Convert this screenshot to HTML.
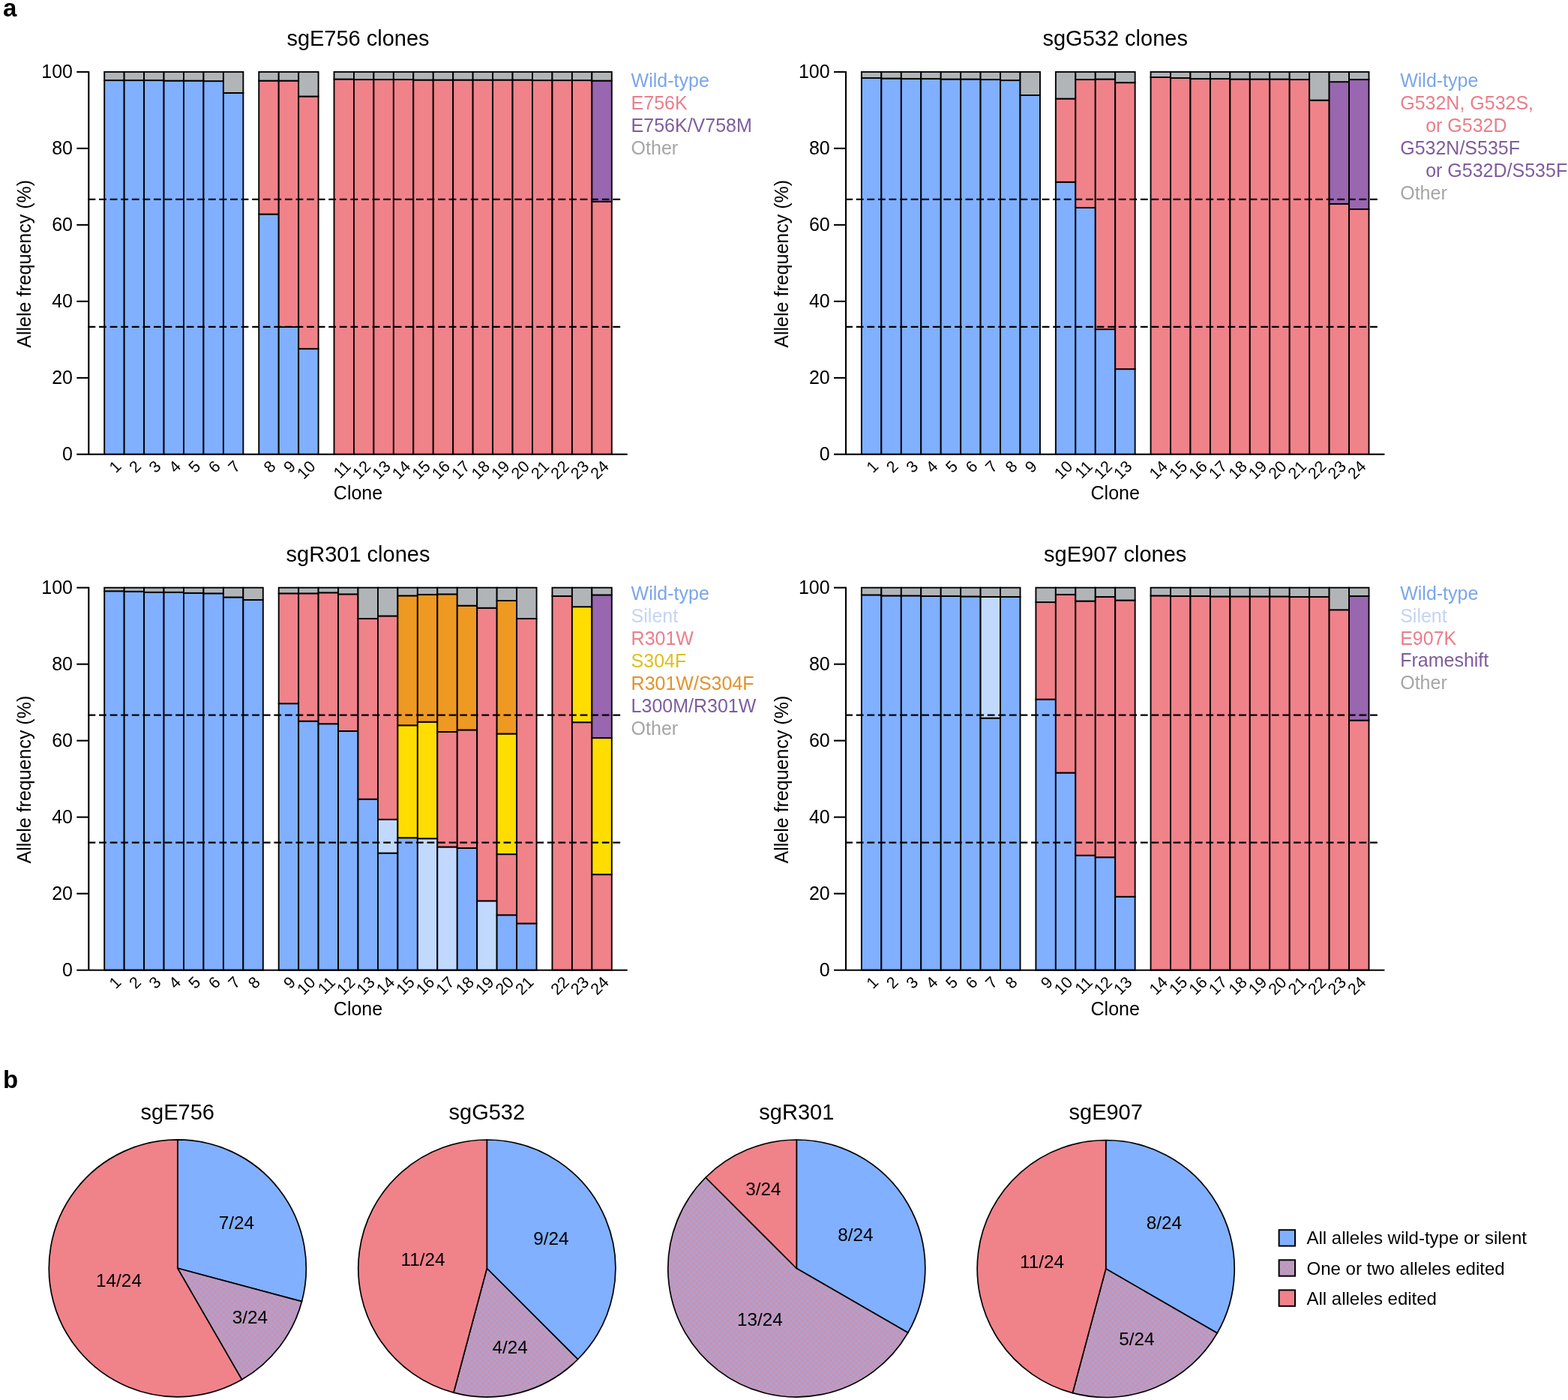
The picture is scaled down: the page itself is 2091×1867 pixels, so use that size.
<!DOCTYPE html>
<html><head><meta charset="utf-8"><title>Figure</title><style>
html,body{margin:0;padding:0;background:#fff;}
svg{display:block;}
text{font-family:"Liberation Sans",Arial,sans-serif;}
</style></head><body>
<svg width="2091" height="1867" viewBox="0 0 2091 1867">
<defs><pattern id="hat" width="7.6" height="7.6" patternUnits="userSpaceOnUse"><rect width="7.6" height="7.6" fill="#b99bc4"/><rect x="0.6" y="0.6" width="2.6" height="2.6" fill="#df899b"/><rect x="4.4" y="4.4" width="2.6" height="2.6" fill="#df899b"/><rect x="4.4" y="0.6" width="2.6" height="2.6" fill="#a2a6dc"/><rect x="0.6" y="4.4" width="2.6" height="2.6" fill="#a2a6dc"/></pattern></defs>
<rect width="2091" height="1867" fill="#fff"/>
<text x="4" y="22.3" font-size="33" font-weight="bold">a</text>
<text x="4" y="1450.6" font-size="33" font-weight="bold">b</text>
<g stroke="#000" stroke-width="1.9">
<rect x="139.2" y="107.12" width="26.45" height="498.78" fill="#80b0ff"/>
<rect x="139.2" y="95.9" width="26.45" height="11.22" fill="#b2b5b8"/>
<rect x="165.65" y="107.12" width="26.45" height="498.78" fill="#80b0ff"/>
<rect x="165.65" y="95.9" width="26.45" height="11.22" fill="#b2b5b8"/>
<rect x="192.1" y="107.12" width="26.45" height="498.78" fill="#80b0ff"/>
<rect x="192.1" y="95.9" width="26.45" height="11.22" fill="#b2b5b8"/>
<rect x="218.55" y="107.63" width="26.45" height="498.27" fill="#80b0ff"/>
<rect x="218.55" y="95.9" width="26.45" height="11.73" fill="#b2b5b8"/>
<rect x="245" y="107.63" width="26.45" height="498.27" fill="#80b0ff"/>
<rect x="245" y="95.9" width="26.45" height="11.73" fill="#b2b5b8"/>
<rect x="271.45" y="108.14" width="26.45" height="497.76" fill="#80b0ff"/>
<rect x="271.45" y="95.9" width="26.45" height="12.24" fill="#b2b5b8"/>
<rect x="297.9" y="123.95" width="26.45" height="481.95" fill="#80b0ff"/>
<rect x="297.9" y="95.9" width="26.45" height="28.05" fill="#b2b5b8"/>
<rect x="345.25" y="285.62" width="26.45" height="320.28" fill="#80b0ff"/>
<rect x="345.25" y="107.63" width="26.45" height="177.99" fill="#f0828a"/>
<rect x="345.25" y="95.9" width="26.45" height="11.73" fill="#b2b5b8"/>
<rect x="371.7" y="436.07" width="26.45" height="169.83" fill="#80b0ff"/>
<rect x="371.7" y="107.63" width="26.45" height="328.44" fill="#f0828a"/>
<rect x="371.7" y="95.9" width="26.45" height="11.73" fill="#b2b5b8"/>
<rect x="398.15" y="465.14" width="26.45" height="140.76" fill="#80b0ff"/>
<rect x="398.15" y="128.54" width="26.45" height="336.6" fill="#f0828a"/>
<rect x="398.15" y="95.9" width="26.45" height="32.64" fill="#b2b5b8"/>
<rect x="445.5" y="105.59" width="26.45" height="500.31" fill="#f0828a"/>
<rect x="445.5" y="95.9" width="26.45" height="9.69" fill="#b2b5b8"/>
<rect x="471.95" y="106.1" width="26.45" height="499.8" fill="#f0828a"/>
<rect x="471.95" y="95.9" width="26.45" height="10.2" fill="#b2b5b8"/>
<rect x="498.4" y="106.1" width="26.45" height="499.8" fill="#f0828a"/>
<rect x="498.4" y="95.9" width="26.45" height="10.2" fill="#b2b5b8"/>
<rect x="524.85" y="106.1" width="26.45" height="499.8" fill="#f0828a"/>
<rect x="524.85" y="95.9" width="26.45" height="10.2" fill="#b2b5b8"/>
<rect x="551.3" y="106.61" width="26.45" height="499.29" fill="#f0828a"/>
<rect x="551.3" y="95.9" width="26.45" height="10.71" fill="#b2b5b8"/>
<rect x="577.75" y="106.61" width="26.45" height="499.29" fill="#f0828a"/>
<rect x="577.75" y="95.9" width="26.45" height="10.71" fill="#b2b5b8"/>
<rect x="604.2" y="106.61" width="26.45" height="499.29" fill="#f0828a"/>
<rect x="604.2" y="95.9" width="26.45" height="10.71" fill="#b2b5b8"/>
<rect x="630.65" y="106.61" width="26.45" height="499.29" fill="#f0828a"/>
<rect x="630.65" y="95.9" width="26.45" height="10.71" fill="#b2b5b8"/>
<rect x="657.1" y="106.61" width="26.45" height="499.29" fill="#f0828a"/>
<rect x="657.1" y="95.9" width="26.45" height="10.71" fill="#b2b5b8"/>
<rect x="683.55" y="106.61" width="26.45" height="499.29" fill="#f0828a"/>
<rect x="683.55" y="95.9" width="26.45" height="10.71" fill="#b2b5b8"/>
<rect x="710" y="107.12" width="26.45" height="498.78" fill="#f0828a"/>
<rect x="710" y="95.9" width="26.45" height="11.22" fill="#b2b5b8"/>
<rect x="736.45" y="107.12" width="26.45" height="498.78" fill="#f0828a"/>
<rect x="736.45" y="95.9" width="26.45" height="11.22" fill="#b2b5b8"/>
<rect x="762.9" y="107.12" width="26.45" height="498.78" fill="#f0828a"/>
<rect x="762.9" y="95.9" width="26.45" height="11.22" fill="#b2b5b8"/>
<rect x="789.35" y="268.79" width="26.45" height="337.11" fill="#f0828a"/>
<rect x="789.35" y="107.63" width="26.45" height="161.16" fill="#9966b0"/>
<rect x="789.35" y="95.9" width="26.45" height="11.73" fill="#b2b5b8"/>
</g>
<line x1="117.5" y1="265.9" x2="827.3" y2="265.9" stroke="#000" stroke-width="2.2" stroke-dasharray="9.8 4.78"/>
<line x1="117.5" y1="435.9" x2="827.3" y2="435.9" stroke="#000" stroke-width="2.2" stroke-dasharray="9.8 4.78"/>
<g stroke="#000" stroke-width="2.1" fill="none">
<path d="M118.3 94.9V605.9"/>
<path d="M102.3 605.9H836.7"/>
<path d="M102.3 503.9H118.3"/>
<path d="M102.3 401.9H118.3"/>
<path d="M102.3 299.9H118.3"/>
<path d="M102.3 197.9H118.3"/>
<path d="M102.3 95.9H118.3"/>
</g>
<g font-size="25" text-anchor="end">
<text x="97" y="613.9">0</text>
<text x="97" y="511.9">20</text>
<text x="97" y="409.9">40</text>
<text x="97" y="307.9">60</text>
<text x="97" y="205.9">80</text>
<text x="97" y="103.9">100</text>
</g>
<text font-size="25" text-anchor="middle" transform="translate(41.4 351.8) rotate(-90)">Allele frequency (%)</text>
<g font-size="21.5" text-anchor="end">
<text transform="translate(163.02 623.4) rotate(-45)">1</text>
<text transform="translate(189.47 623.4) rotate(-45)">2</text>
<text transform="translate(215.92 623.4) rotate(-45)">3</text>
<text transform="translate(242.37 623.4) rotate(-45)">4</text>
<text transform="translate(268.83 623.4) rotate(-45)">5</text>
<text transform="translate(295.28 623.4) rotate(-45)">6</text>
<text transform="translate(321.73 623.4) rotate(-45)">7</text>
<text transform="translate(369.08 623.4) rotate(-45)">8</text>
<text transform="translate(395.53 623.4) rotate(-45)">9</text>
<text transform="translate(421.98 623.4) rotate(-45)">10</text>
<text transform="translate(469.33 623.4) rotate(-45)">11</text>
<text transform="translate(495.78 623.4) rotate(-45)">12</text>
<text transform="translate(522.23 623.4) rotate(-45)">13</text>
<text transform="translate(548.68 623.4) rotate(-45)">14</text>
<text transform="translate(575.12 623.4) rotate(-45)">15</text>
<text transform="translate(601.58 623.4) rotate(-45)">16</text>
<text transform="translate(628.03 623.4) rotate(-45)">17</text>
<text transform="translate(654.48 623.4) rotate(-45)">18</text>
<text transform="translate(680.93 623.4) rotate(-45)">19</text>
<text transform="translate(707.38 623.4) rotate(-45)">20</text>
<text transform="translate(733.83 623.4) rotate(-45)">21</text>
<text transform="translate(760.28 623.4) rotate(-45)">22</text>
<text transform="translate(786.73 623.4) rotate(-45)">23</text>
<text transform="translate(813.17 623.4) rotate(-45)">24</text>
</g>
<text x="477.5" y="665.8" font-size="25" text-anchor="middle">Clone</text>
<text x="477.5" y="61.1" font-size="29" text-anchor="middle">sgE756 clones</text>
<g font-size="25">
<text x="841.6" y="116.3" fill="#7aa6ea">Wild-type</text>
<text x="841.6" y="146.25" fill="#e87f8c">E756K</text>
<text x="841.6" y="176.2" fill="#7f5c9e">E756K/V758M</text>
<text x="841.6" y="206.15" fill="#a6a6a6">Other</text>
</g>
<g stroke="#000" stroke-width="1.9">
<rect x="1148.9" y="104.06" width="26.45" height="501.84" fill="#80b0ff"/>
<rect x="1148.9" y="95.9" width="26.45" height="8.16" fill="#b2b5b8"/>
<rect x="1175.35" y="104.57" width="26.45" height="501.33" fill="#80b0ff"/>
<rect x="1175.35" y="95.9" width="26.45" height="8.67" fill="#b2b5b8"/>
<rect x="1201.8" y="105.08" width="26.45" height="500.82" fill="#80b0ff"/>
<rect x="1201.8" y="95.9" width="26.45" height="9.18" fill="#b2b5b8"/>
<rect x="1228.25" y="105.08" width="26.45" height="500.82" fill="#80b0ff"/>
<rect x="1228.25" y="95.9" width="26.45" height="9.18" fill="#b2b5b8"/>
<rect x="1254.7" y="105.59" width="26.45" height="500.31" fill="#80b0ff"/>
<rect x="1254.7" y="95.9" width="26.45" height="9.69" fill="#b2b5b8"/>
<rect x="1281.15" y="105.59" width="26.45" height="500.31" fill="#80b0ff"/>
<rect x="1281.15" y="95.9" width="26.45" height="9.69" fill="#b2b5b8"/>
<rect x="1307.6" y="106.1" width="26.45" height="499.8" fill="#80b0ff"/>
<rect x="1307.6" y="95.9" width="26.45" height="10.2" fill="#b2b5b8"/>
<rect x="1334.05" y="107.12" width="26.45" height="498.78" fill="#80b0ff"/>
<rect x="1334.05" y="95.9" width="26.45" height="11.22" fill="#b2b5b8"/>
<rect x="1360.5" y="127.01" width="26.45" height="478.89" fill="#80b0ff"/>
<rect x="1360.5" y="95.9" width="26.45" height="31.11" fill="#b2b5b8"/>
<rect x="1407.85" y="242.78" width="26.45" height="363.12" fill="#80b0ff"/>
<rect x="1407.85" y="131.6" width="26.45" height="111.18" fill="#f0828a"/>
<rect x="1407.85" y="95.9" width="26.45" height="35.7" fill="#b2b5b8"/>
<rect x="1434.3" y="276.95" width="26.45" height="328.95" fill="#80b0ff"/>
<rect x="1434.3" y="106.1" width="26.45" height="170.85" fill="#f0828a"/>
<rect x="1434.3" y="95.9" width="26.45" height="10.2" fill="#b2b5b8"/>
<rect x="1460.75" y="439.13" width="26.45" height="166.77" fill="#80b0ff"/>
<rect x="1460.75" y="105.59" width="26.45" height="333.54" fill="#f0828a"/>
<rect x="1460.75" y="95.9" width="26.45" height="9.69" fill="#b2b5b8"/>
<rect x="1487.2" y="492.17" width="26.45" height="113.73" fill="#80b0ff"/>
<rect x="1487.2" y="110.18" width="26.45" height="381.99" fill="#f0828a"/>
<rect x="1487.2" y="95.9" width="26.45" height="14.28" fill="#b2b5b8"/>
<rect x="1534.55" y="103.04" width="26.45" height="502.86" fill="#f0828a"/>
<rect x="1534.55" y="95.9" width="26.45" height="7.14" fill="#b2b5b8"/>
<rect x="1561" y="104.06" width="26.45" height="501.84" fill="#f0828a"/>
<rect x="1561" y="95.9" width="26.45" height="8.16" fill="#b2b5b8"/>
<rect x="1587.45" y="105.08" width="26.45" height="500.82" fill="#f0828a"/>
<rect x="1587.45" y="95.9" width="26.45" height="9.18" fill="#b2b5b8"/>
<rect x="1613.9" y="105.08" width="26.45" height="500.82" fill="#f0828a"/>
<rect x="1613.9" y="95.9" width="26.45" height="9.18" fill="#b2b5b8"/>
<rect x="1640.35" y="105.59" width="26.45" height="500.31" fill="#f0828a"/>
<rect x="1640.35" y="95.9" width="26.45" height="9.69" fill="#b2b5b8"/>
<rect x="1666.8" y="105.59" width="26.45" height="500.31" fill="#f0828a"/>
<rect x="1666.8" y="95.9" width="26.45" height="9.69" fill="#b2b5b8"/>
<rect x="1693.25" y="105.59" width="26.45" height="500.31" fill="#f0828a"/>
<rect x="1693.25" y="95.9" width="26.45" height="9.69" fill="#b2b5b8"/>
<rect x="1719.7" y="106.1" width="26.45" height="499.8" fill="#f0828a"/>
<rect x="1719.7" y="95.9" width="26.45" height="10.2" fill="#b2b5b8"/>
<rect x="1746.15" y="133.64" width="26.45" height="472.26" fill="#f0828a"/>
<rect x="1746.15" y="95.9" width="26.45" height="37.74" fill="#b2b5b8"/>
<rect x="1772.6" y="271.85" width="26.45" height="334.05" fill="#f0828a"/>
<rect x="1772.6" y="109.16" width="26.45" height="162.69" fill="#9966b0"/>
<rect x="1772.6" y="95.9" width="26.45" height="13.26" fill="#b2b5b8"/>
<rect x="1799.05" y="278.99" width="26.45" height="326.91" fill="#f0828a"/>
<rect x="1799.05" y="106.1" width="26.45" height="172.89" fill="#9966b0"/>
<rect x="1799.05" y="95.9" width="26.45" height="10.2" fill="#b2b5b8"/>
</g>
<line x1="1127.2" y1="265.9" x2="1837" y2="265.9" stroke="#000" stroke-width="2.2" stroke-dasharray="9.8 4.78"/>
<line x1="1127.2" y1="435.9" x2="1837" y2="435.9" stroke="#000" stroke-width="2.2" stroke-dasharray="9.8 4.78"/>
<g stroke="#000" stroke-width="2.1" fill="none">
<path d="M1128 94.9V605.9"/>
<path d="M1112 605.9H1846.4"/>
<path d="M1112 503.9H1128"/>
<path d="M1112 401.9H1128"/>
<path d="M1112 299.9H1128"/>
<path d="M1112 197.9H1128"/>
<path d="M1112 95.9H1128"/>
</g>
<g font-size="25" text-anchor="end">
<text x="1106.7" y="613.9">0</text>
<text x="1106.7" y="511.9">20</text>
<text x="1106.7" y="409.9">40</text>
<text x="1106.7" y="307.9">60</text>
<text x="1106.7" y="205.9">80</text>
<text x="1106.7" y="103.9">100</text>
</g>
<text font-size="25" text-anchor="middle" transform="translate(1051.1 351.8) rotate(-90)">Allele frequency (%)</text>
<g font-size="21.5" text-anchor="end">
<text transform="translate(1172.72 623.4) rotate(-45)">1</text>
<text transform="translate(1199.17 623.4) rotate(-45)">2</text>
<text transform="translate(1225.62 623.4) rotate(-45)">3</text>
<text transform="translate(1252.07 623.4) rotate(-45)">4</text>
<text transform="translate(1278.52 623.4) rotate(-45)">5</text>
<text transform="translate(1304.97 623.4) rotate(-45)">6</text>
<text transform="translate(1331.42 623.4) rotate(-45)">7</text>
<text transform="translate(1357.88 623.4) rotate(-45)">8</text>
<text transform="translate(1384.32 623.4) rotate(-45)">9</text>
<text transform="translate(1431.67 623.4) rotate(-45)">10</text>
<text transform="translate(1458.12 623.4) rotate(-45)">11</text>
<text transform="translate(1484.58 623.4) rotate(-45)">12</text>
<text transform="translate(1511.02 623.4) rotate(-45)">13</text>
<text transform="translate(1558.38 623.4) rotate(-45)">14</text>
<text transform="translate(1584.83 623.4) rotate(-45)">15</text>
<text transform="translate(1611.28 623.4) rotate(-45)">16</text>
<text transform="translate(1637.72 623.4) rotate(-45)">17</text>
<text transform="translate(1664.17 623.4) rotate(-45)">18</text>
<text transform="translate(1690.62 623.4) rotate(-45)">19</text>
<text transform="translate(1717.08 623.4) rotate(-45)">20</text>
<text transform="translate(1743.53 623.4) rotate(-45)">21</text>
<text transform="translate(1769.97 623.4) rotate(-45)">22</text>
<text transform="translate(1796.42 623.4) rotate(-45)">23</text>
<text transform="translate(1822.88 623.4) rotate(-45)">24</text>
</g>
<text x="1487.2" y="665.8" font-size="25" text-anchor="middle">Clone</text>
<text x="1487.2" y="61.1" font-size="29" text-anchor="middle">sgG532 clones</text>
<g font-size="25">
<text x="1867.2" y="116" fill="#7aa6ea">Wild-type</text>
<text x="1867.2" y="145.95" fill="#e87f8c">G532N, G532S,</text>
<text x="1901.2" y="175.9" fill="#e87f8c">or G532D</text>
<text x="1867.2" y="205.85" fill="#7f5c9e">G532N/S535F</text>
<text x="1901.2" y="235.8" fill="#7f5c9e">or G532D/S535F</text>
<text x="1867.2" y="265.75" fill="#a6a6a6">Other</text>
</g>
<g stroke="#000" stroke-width="1.9">
<rect x="139.2" y="788.29" width="26.45" height="505.41" fill="#80b0ff"/>
<rect x="139.2" y="783.7" width="26.45" height="4.59" fill="#b2b5b8"/>
<rect x="165.65" y="788.8" width="26.45" height="504.9" fill="#80b0ff"/>
<rect x="165.65" y="783.7" width="26.45" height="5.1" fill="#b2b5b8"/>
<rect x="192.1" y="789.82" width="26.45" height="503.88" fill="#80b0ff"/>
<rect x="192.1" y="783.7" width="26.45" height="6.12" fill="#b2b5b8"/>
<rect x="218.55" y="789.82" width="26.45" height="503.88" fill="#80b0ff"/>
<rect x="218.55" y="783.7" width="26.45" height="6.12" fill="#b2b5b8"/>
<rect x="245" y="790.84" width="26.45" height="502.86" fill="#80b0ff"/>
<rect x="245" y="783.7" width="26.45" height="7.14" fill="#b2b5b8"/>
<rect x="271.45" y="791.35" width="26.45" height="502.35" fill="#80b0ff"/>
<rect x="271.45" y="783.7" width="26.45" height="7.65" fill="#b2b5b8"/>
<rect x="297.9" y="796.45" width="26.45" height="497.25" fill="#80b0ff"/>
<rect x="297.9" y="783.7" width="26.45" height="12.75" fill="#b2b5b8"/>
<rect x="324.35" y="800.02" width="26.45" height="493.68" fill="#80b0ff"/>
<rect x="324.35" y="783.7" width="26.45" height="16.32" fill="#b2b5b8"/>
<rect x="371.7" y="938.23" width="26.45" height="355.47" fill="#80b0ff"/>
<rect x="371.7" y="791.35" width="26.45" height="146.88" fill="#f0828a"/>
<rect x="371.7" y="783.7" width="26.45" height="7.65" fill="#b2b5b8"/>
<rect x="398.15" y="961.69" width="26.45" height="332.01" fill="#80b0ff"/>
<rect x="398.15" y="791.35" width="26.45" height="170.34" fill="#f0828a"/>
<rect x="398.15" y="783.7" width="26.45" height="7.65" fill="#b2b5b8"/>
<rect x="424.6" y="965.26" width="26.45" height="328.44" fill="#80b0ff"/>
<rect x="424.6" y="790.33" width="26.45" height="174.93" fill="#f0828a"/>
<rect x="424.6" y="783.7" width="26.45" height="6.63" fill="#b2b5b8"/>
<rect x="451.05" y="974.95" width="26.45" height="318.75" fill="#80b0ff"/>
<rect x="451.05" y="792.37" width="26.45" height="182.58" fill="#f0828a"/>
<rect x="451.05" y="783.7" width="26.45" height="8.67" fill="#b2b5b8"/>
<rect x="477.5" y="1065.73" width="26.45" height="227.97" fill="#80b0ff"/>
<rect x="477.5" y="825.01" width="26.45" height="240.72" fill="#f0828a"/>
<rect x="477.5" y="783.7" width="26.45" height="41.31" fill="#b2b5b8"/>
<rect x="503.95" y="1137.64" width="26.45" height="156.06" fill="#80b0ff"/>
<rect x="503.95" y="1092.76" width="26.45" height="44.88" fill="#c2d9ff"/>
<rect x="503.95" y="821.44" width="26.45" height="271.32" fill="#f0828a"/>
<rect x="503.95" y="783.7" width="26.45" height="37.74" fill="#b2b5b8"/>
<rect x="530.4" y="1117.24" width="26.45" height="176.46" fill="#80b0ff"/>
<rect x="530.4" y="967.3" width="26.45" height="149.94" fill="#ffdd00"/>
<rect x="530.4" y="794.41" width="26.45" height="172.89" fill="#ee9922"/>
<rect x="530.4" y="783.7" width="26.45" height="10.71" fill="#b2b5b8"/>
<rect x="556.85" y="1118.26" width="26.45" height="175.44" fill="#c2d9ff"/>
<rect x="556.85" y="962.71" width="26.45" height="155.55" fill="#ffdd00"/>
<rect x="556.85" y="792.88" width="26.45" height="169.83" fill="#ee9922"/>
<rect x="556.85" y="783.7" width="26.45" height="9.18" fill="#b2b5b8"/>
<rect x="583.3" y="1129.48" width="26.45" height="164.22" fill="#c2d9ff"/>
<rect x="583.3" y="975.97" width="26.45" height="153.51" fill="#f0828a"/>
<rect x="583.3" y="792.37" width="26.45" height="183.6" fill="#ee9922"/>
<rect x="583.3" y="783.7" width="26.45" height="8.67" fill="#b2b5b8"/>
<rect x="609.75" y="1131.01" width="26.45" height="162.69" fill="#80b0ff"/>
<rect x="609.75" y="973.42" width="26.45" height="157.59" fill="#f0828a"/>
<rect x="609.75" y="807.67" width="26.45" height="165.75" fill="#ee9922"/>
<rect x="609.75" y="783.7" width="26.45" height="23.97" fill="#b2b5b8"/>
<rect x="636.2" y="1201.39" width="26.45" height="92.31" fill="#c2d9ff"/>
<rect x="636.2" y="810.73" width="26.45" height="390.66" fill="#f0828a"/>
<rect x="636.2" y="783.7" width="26.45" height="27.03" fill="#b2b5b8"/>
<rect x="662.65" y="1220.26" width="26.45" height="73.44" fill="#80b0ff"/>
<rect x="662.65" y="1139.17" width="26.45" height="81.09" fill="#f0828a"/>
<rect x="662.65" y="978.52" width="26.45" height="160.65" fill="#ffdd00"/>
<rect x="662.65" y="801.04" width="26.45" height="177.48" fill="#ee9922"/>
<rect x="662.65" y="783.7" width="26.45" height="17.34" fill="#b2b5b8"/>
<rect x="689.1" y="1231.48" width="26.45" height="62.22" fill="#80b0ff"/>
<rect x="689.1" y="825.01" width="26.45" height="406.47" fill="#f0828a"/>
<rect x="689.1" y="783.7" width="26.45" height="41.31" fill="#b2b5b8"/>
<rect x="736.45" y="794.92" width="26.45" height="498.78" fill="#f0828a"/>
<rect x="736.45" y="783.7" width="26.45" height="11.22" fill="#b2b5b8"/>
<rect x="762.9" y="963.22" width="26.45" height="330.48" fill="#f0828a"/>
<rect x="762.9" y="809.2" width="26.45" height="154.02" fill="#ffdd00"/>
<rect x="762.9" y="783.7" width="26.45" height="25.5" fill="#b2b5b8"/>
<rect x="789.35" y="1166.2" width="26.45" height="127.5" fill="#f0828a"/>
<rect x="789.35" y="984.13" width="26.45" height="182.07" fill="#ffdd00"/>
<rect x="789.35" y="793.39" width="26.45" height="190.74" fill="#9966b0"/>
<rect x="789.35" y="783.7" width="26.45" height="9.69" fill="#b2b5b8"/>
</g>
<line x1="117.5" y1="953.7" x2="827.3" y2="953.7" stroke="#000" stroke-width="2.2" stroke-dasharray="9.8 4.78"/>
<line x1="117.5" y1="1123.7" x2="827.3" y2="1123.7" stroke="#000" stroke-width="2.2" stroke-dasharray="9.8 4.78"/>
<g stroke="#000" stroke-width="2.1" fill="none">
<path d="M118.3 782.7V1293.7"/>
<path d="M102.3 1293.7H836.7"/>
<path d="M102.3 1191.7H118.3"/>
<path d="M102.3 1089.7H118.3"/>
<path d="M102.3 987.7H118.3"/>
<path d="M102.3 885.7H118.3"/>
<path d="M102.3 783.7H118.3"/>
</g>
<g font-size="25" text-anchor="end">
<text x="97" y="1301.7">0</text>
<text x="97" y="1199.7">20</text>
<text x="97" y="1097.7">40</text>
<text x="97" y="995.7">60</text>
<text x="97" y="893.7">80</text>
<text x="97" y="791.7">100</text>
</g>
<text font-size="25" text-anchor="middle" transform="translate(41.4 1039.6) rotate(-90)">Allele frequency (%)</text>
<g font-size="21.5" text-anchor="end">
<text transform="translate(163.02 1311.2) rotate(-45)">1</text>
<text transform="translate(189.47 1311.2) rotate(-45)">2</text>
<text transform="translate(215.92 1311.2) rotate(-45)">3</text>
<text transform="translate(242.37 1311.2) rotate(-45)">4</text>
<text transform="translate(268.83 1311.2) rotate(-45)">5</text>
<text transform="translate(295.28 1311.2) rotate(-45)">6</text>
<text transform="translate(321.73 1311.2) rotate(-45)">7</text>
<text transform="translate(348.18 1311.2) rotate(-45)">8</text>
<text transform="translate(395.52 1311.2) rotate(-45)">9</text>
<text transform="translate(421.97 1311.2) rotate(-45)">10</text>
<text transform="translate(448.42 1311.2) rotate(-45)">11</text>
<text transform="translate(474.88 1311.2) rotate(-45)">12</text>
<text transform="translate(501.32 1311.2) rotate(-45)">13</text>
<text transform="translate(527.77 1311.2) rotate(-45)">14</text>
<text transform="translate(554.22 1311.2) rotate(-45)">15</text>
<text transform="translate(580.67 1311.2) rotate(-45)">16</text>
<text transform="translate(607.12 1311.2) rotate(-45)">17</text>
<text transform="translate(633.57 1311.2) rotate(-45)">18</text>
<text transform="translate(660.02 1311.2) rotate(-45)">19</text>
<text transform="translate(686.47 1311.2) rotate(-45)">20</text>
<text transform="translate(712.92 1311.2) rotate(-45)">21</text>
<text transform="translate(760.27 1311.2) rotate(-45)">22</text>
<text transform="translate(786.73 1311.2) rotate(-45)">23</text>
<text transform="translate(813.17 1311.2) rotate(-45)">24</text>
</g>
<text x="477.5" y="1353.6" font-size="25" text-anchor="middle">Clone</text>
<text x="477.5" y="748.9" font-size="29" text-anchor="middle">sgR301 clones</text>
<g font-size="25">
<text x="841.6" y="799.8" fill="#7aa6ea">Wild-type</text>
<text x="841.6" y="829.75" fill="#c4d4f2">Silent</text>
<text x="841.6" y="859.7" fill="#e87f8c">R301W</text>
<text x="841.6" y="889.65" fill="#dcc01e">S304F</text>
<text x="841.6" y="919.6" fill="#e2932a">R301W/S304F</text>
<text x="841.6" y="949.55" fill="#7f5c9e">L300M/R301W</text>
<text x="841.6" y="979.5" fill="#a6a6a6">Other</text>
</g>
<g stroke="#000" stroke-width="1.9">
<rect x="1148.9" y="793.39" width="26.45" height="500.31" fill="#80b0ff"/>
<rect x="1148.9" y="783.7" width="26.45" height="9.69" fill="#b2b5b8"/>
<rect x="1175.35" y="794.41" width="26.45" height="499.29" fill="#80b0ff"/>
<rect x="1175.35" y="783.7" width="26.45" height="10.71" fill="#b2b5b8"/>
<rect x="1201.8" y="794.41" width="26.45" height="499.29" fill="#80b0ff"/>
<rect x="1201.8" y="783.7" width="26.45" height="10.71" fill="#b2b5b8"/>
<rect x="1228.25" y="794.92" width="26.45" height="498.78" fill="#80b0ff"/>
<rect x="1228.25" y="783.7" width="26.45" height="11.22" fill="#b2b5b8"/>
<rect x="1254.7" y="794.92" width="26.45" height="498.78" fill="#80b0ff"/>
<rect x="1254.7" y="783.7" width="26.45" height="11.22" fill="#b2b5b8"/>
<rect x="1281.15" y="795.43" width="26.45" height="498.27" fill="#80b0ff"/>
<rect x="1281.15" y="783.7" width="26.45" height="11.73" fill="#b2b5b8"/>
<rect x="1307.6" y="957.61" width="26.45" height="336.09" fill="#80b0ff"/>
<rect x="1307.6" y="795.94" width="26.45" height="161.67" fill="#c2d9ff"/>
<rect x="1307.6" y="783.7" width="26.45" height="12.24" fill="#b2b5b8"/>
<rect x="1334.05" y="795.94" width="26.45" height="497.76" fill="#80b0ff"/>
<rect x="1334.05" y="783.7" width="26.45" height="12.24" fill="#b2b5b8"/>
<rect x="1381.4" y="932.62" width="26.45" height="361.08" fill="#80b0ff"/>
<rect x="1381.4" y="803.08" width="26.45" height="129.54" fill="#f0828a"/>
<rect x="1381.4" y="783.7" width="26.45" height="19.38" fill="#b2b5b8"/>
<rect x="1407.85" y="1030.54" width="26.45" height="263.16" fill="#80b0ff"/>
<rect x="1407.85" y="792.88" width="26.45" height="237.66" fill="#f0828a"/>
<rect x="1407.85" y="783.7" width="26.45" height="9.18" fill="#b2b5b8"/>
<rect x="1434.3" y="1140.7" width="26.45" height="153" fill="#80b0ff"/>
<rect x="1434.3" y="801.55" width="26.45" height="339.15" fill="#f0828a"/>
<rect x="1434.3" y="783.7" width="26.45" height="17.85" fill="#b2b5b8"/>
<rect x="1460.75" y="1143.25" width="26.45" height="150.45" fill="#80b0ff"/>
<rect x="1460.75" y="795.94" width="26.45" height="347.31" fill="#f0828a"/>
<rect x="1460.75" y="783.7" width="26.45" height="12.24" fill="#b2b5b8"/>
<rect x="1487.2" y="1195.78" width="26.45" height="97.92" fill="#80b0ff"/>
<rect x="1487.2" y="800.53" width="26.45" height="395.25" fill="#f0828a"/>
<rect x="1487.2" y="783.7" width="26.45" height="16.83" fill="#b2b5b8"/>
<rect x="1534.55" y="794.41" width="26.45" height="499.29" fill="#f0828a"/>
<rect x="1534.55" y="783.7" width="26.45" height="10.71" fill="#b2b5b8"/>
<rect x="1561" y="794.92" width="26.45" height="498.78" fill="#f0828a"/>
<rect x="1561" y="783.7" width="26.45" height="11.22" fill="#b2b5b8"/>
<rect x="1587.45" y="794.92" width="26.45" height="498.78" fill="#f0828a"/>
<rect x="1587.45" y="783.7" width="26.45" height="11.22" fill="#b2b5b8"/>
<rect x="1613.9" y="795.43" width="26.45" height="498.27" fill="#f0828a"/>
<rect x="1613.9" y="783.7" width="26.45" height="11.73" fill="#b2b5b8"/>
<rect x="1640.35" y="795.43" width="26.45" height="498.27" fill="#f0828a"/>
<rect x="1640.35" y="783.7" width="26.45" height="11.73" fill="#b2b5b8"/>
<rect x="1666.8" y="795.43" width="26.45" height="498.27" fill="#f0828a"/>
<rect x="1666.8" y="783.7" width="26.45" height="11.73" fill="#b2b5b8"/>
<rect x="1693.25" y="795.43" width="26.45" height="498.27" fill="#f0828a"/>
<rect x="1693.25" y="783.7" width="26.45" height="11.73" fill="#b2b5b8"/>
<rect x="1719.7" y="795.94" width="26.45" height="497.76" fill="#f0828a"/>
<rect x="1719.7" y="783.7" width="26.45" height="12.24" fill="#b2b5b8"/>
<rect x="1746.15" y="795.94" width="26.45" height="497.76" fill="#f0828a"/>
<rect x="1746.15" y="783.7" width="26.45" height="12.24" fill="#b2b5b8"/>
<rect x="1772.6" y="813.28" width="26.45" height="480.42" fill="#f0828a"/>
<rect x="1772.6" y="783.7" width="26.45" height="29.58" fill="#b2b5b8"/>
<rect x="1799.05" y="960.67" width="26.45" height="333.03" fill="#f0828a"/>
<rect x="1799.05" y="794.92" width="26.45" height="165.75" fill="#9966b0"/>
<rect x="1799.05" y="783.7" width="26.45" height="11.22" fill="#b2b5b8"/>
</g>
<line x1="1127.2" y1="953.7" x2="1837" y2="953.7" stroke="#000" stroke-width="2.2" stroke-dasharray="9.8 4.78"/>
<line x1="1127.2" y1="1123.7" x2="1837" y2="1123.7" stroke="#000" stroke-width="2.2" stroke-dasharray="9.8 4.78"/>
<g stroke="#000" stroke-width="2.1" fill="none">
<path d="M1128 782.7V1293.7"/>
<path d="M1112 1293.7H1846.4"/>
<path d="M1112 1191.7H1128"/>
<path d="M1112 1089.7H1128"/>
<path d="M1112 987.7H1128"/>
<path d="M1112 885.7H1128"/>
<path d="M1112 783.7H1128"/>
</g>
<g font-size="25" text-anchor="end">
<text x="1106.7" y="1301.7">0</text>
<text x="1106.7" y="1199.7">20</text>
<text x="1106.7" y="1097.7">40</text>
<text x="1106.7" y="995.7">60</text>
<text x="1106.7" y="893.7">80</text>
<text x="1106.7" y="791.7">100</text>
</g>
<text font-size="25" text-anchor="middle" transform="translate(1051.1 1039.6) rotate(-90)">Allele frequency (%)</text>
<g font-size="21.5" text-anchor="end">
<text transform="translate(1172.72 1311.2) rotate(-45)">1</text>
<text transform="translate(1199.17 1311.2) rotate(-45)">2</text>
<text transform="translate(1225.62 1311.2) rotate(-45)">3</text>
<text transform="translate(1252.07 1311.2) rotate(-45)">4</text>
<text transform="translate(1278.52 1311.2) rotate(-45)">5</text>
<text transform="translate(1304.97 1311.2) rotate(-45)">6</text>
<text transform="translate(1331.42 1311.2) rotate(-45)">7</text>
<text transform="translate(1357.88 1311.2) rotate(-45)">8</text>
<text transform="translate(1405.22 1311.2) rotate(-45)">9</text>
<text transform="translate(1431.67 1311.2) rotate(-45)">10</text>
<text transform="translate(1458.12 1311.2) rotate(-45)">11</text>
<text transform="translate(1484.57 1311.2) rotate(-45)">12</text>
<text transform="translate(1511.02 1311.2) rotate(-45)">13</text>
<text transform="translate(1558.38 1311.2) rotate(-45)">14</text>
<text transform="translate(1584.83 1311.2) rotate(-45)">15</text>
<text transform="translate(1611.28 1311.2) rotate(-45)">16</text>
<text transform="translate(1637.72 1311.2) rotate(-45)">17</text>
<text transform="translate(1664.17 1311.2) rotate(-45)">18</text>
<text transform="translate(1690.62 1311.2) rotate(-45)">19</text>
<text transform="translate(1717.08 1311.2) rotate(-45)">20</text>
<text transform="translate(1743.53 1311.2) rotate(-45)">21</text>
<text transform="translate(1769.97 1311.2) rotate(-45)">22</text>
<text transform="translate(1796.42 1311.2) rotate(-45)">23</text>
<text transform="translate(1822.88 1311.2) rotate(-45)">24</text>
</g>
<text x="1487.2" y="1353.6" font-size="25" text-anchor="middle">Clone</text>
<text x="1487.2" y="748.9" font-size="29" text-anchor="middle">sgE907 clones</text>
<g font-size="25">
<text x="1867.2" y="799.6" fill="#7aa6ea">Wild-type</text>
<text x="1867.2" y="829.55" fill="#c4d4f2">Silent</text>
<text x="1867.2" y="859.5" fill="#e87f8c">E907K</text>
<text x="1867.2" y="889.45" fill="#7f5c9e">Frameshift</text>
<text x="1867.2" y="919.4" fill="#a6a6a6">Other</text>
</g>
<path d="M236.8 1691.3L236.8 1519.8A171.5 171.5 0 0 1 402.46 1735.69Z" fill="#80b0ff" stroke="#000" stroke-width="1.7" stroke-linejoin="round"/>
<path d="M236.8 1691.3L402.46 1735.69A171.5 171.5 0 0 1 322.55 1839.82Z" fill="url(#hat)" stroke="#000" stroke-width="1.7" stroke-linejoin="round"/>
<path d="M236.8 1691.3L322.55 1839.82A171.5 171.5 0 1 1 236.8 1519.8Z" fill="#f0828a" stroke="#000" stroke-width="1.7" stroke-linejoin="round"/>
<text x="236.8" y="1492.5" font-size="29" text-anchor="middle">sgE756</text>
<text x="315.3" y="1639" font-size="24.3" text-anchor="middle">7/24</text>
<text x="333.5" y="1765" font-size="24.3" text-anchor="middle">3/24</text>
<text x="158.5" y="1716" font-size="24.3" text-anchor="middle">14/24</text>
<path d="M649.3 1691.5L649.3 1520A171.5 171.5 0 0 1 770.57 1812.77Z" fill="#80b0ff" stroke="#000" stroke-width="1.7" stroke-linejoin="round"/>
<path d="M649.3 1691.5L770.57 1812.77A171.5 171.5 0 0 1 604.91 1857.16Z" fill="url(#hat)" stroke="#000" stroke-width="1.7" stroke-linejoin="round"/>
<path d="M649.3 1691.5L604.91 1857.16A171.5 171.5 0 0 1 649.3 1520Z" fill="#f0828a" stroke="#000" stroke-width="1.7" stroke-linejoin="round"/>
<text x="649.3" y="1492.5" font-size="29" text-anchor="middle">sgG532</text>
<text x="735" y="1660" font-size="24.3" text-anchor="middle">9/24</text>
<text x="680.2" y="1805" font-size="24.3" text-anchor="middle">4/24</text>
<text x="564" y="1687.5" font-size="24.3" text-anchor="middle">11/24</text>
<path d="M1062.3 1691.5L1062.3 1520A171.5 171.5 0 0 1 1210.82 1777.25Z" fill="#80b0ff" stroke="#000" stroke-width="1.7" stroke-linejoin="round"/>
<path d="M1062.3 1691.5L1210.82 1777.25A171.5 171.5 0 1 1 941.03 1570.23Z" fill="url(#hat)" stroke="#000" stroke-width="1.7" stroke-linejoin="round"/>
<path d="M1062.3 1691.5L941.03 1570.23A171.5 171.5 0 0 1 1062.3 1520Z" fill="#f0828a" stroke="#000" stroke-width="1.7" stroke-linejoin="round"/>
<text x="1062.3" y="1492.5" font-size="29" text-anchor="middle">sgR301</text>
<text x="1141" y="1655" font-size="24.3" text-anchor="middle">8/24</text>
<text x="1013.4" y="1768" font-size="24.3" text-anchor="middle">13/24</text>
<text x="1017.8" y="1593.5" font-size="24.3" text-anchor="middle">3/24</text>
<path d="M1474.7 1692L1474.7 1520.5A171.5 171.5 0 0 1 1623.22 1777.75Z" fill="#80b0ff" stroke="#000" stroke-width="1.7" stroke-linejoin="round"/>
<path d="M1474.7 1692L1623.22 1777.75A171.5 171.5 0 0 1 1430.31 1857.66Z" fill="url(#hat)" stroke="#000" stroke-width="1.7" stroke-linejoin="round"/>
<path d="M1474.7 1692L1430.31 1857.66A171.5 171.5 0 0 1 1474.7 1520.5Z" fill="#f0828a" stroke="#000" stroke-width="1.7" stroke-linejoin="round"/>
<text x="1474.7" y="1492.5" font-size="29" text-anchor="middle">sgE907</text>
<text x="1552.5" y="1639" font-size="24.3" text-anchor="middle">8/24</text>
<text x="1515.8" y="1793.5" font-size="24.3" text-anchor="middle">5/24</text>
<text x="1389.6" y="1690.8" font-size="24.3" text-anchor="middle">11/24</text>
<rect x="1705.6" y="1640.2" width="21.4" height="21.4" fill="#80b0ff" stroke="#000" stroke-width="2"/>
<text x="1742.5" y="1659.4" font-size="24">All alleles wild-type or silent</text>
<rect x="1705.6" y="1680.3" width="21.4" height="21.4" fill="url(#hat)" stroke="#000" stroke-width="2"/>
<text x="1742.5" y="1699.5" font-size="24">One or two alleles edited</text>
<rect x="1705.6" y="1720.4" width="21.4" height="21.4" fill="#f0828a" stroke="#000" stroke-width="2"/>
<text x="1742.5" y="1739.6" font-size="24">All alleles edited</text>
</svg>
</body></html>
